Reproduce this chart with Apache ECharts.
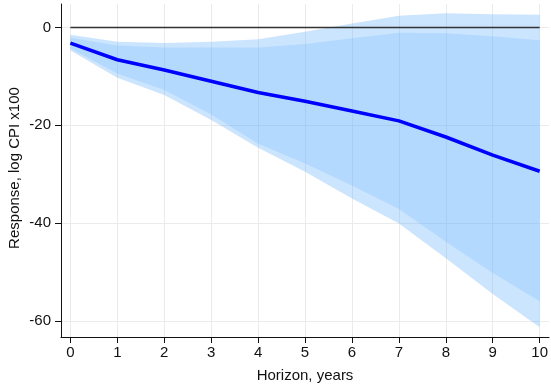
<!DOCTYPE html>
<html>
<head>
<meta charset="utf-8">
<script src="https://cdn.jsdelivr.net/npm/echarts@6/dist/echarts.min.js"></script>
<style>
  html, body { margin: 0; padding: 0; background: #fff; }
  #chart { width: 551px; height: 388px; }
</style>
</head>
<body>
<div id="chart"></div>
<script>
// horizon (years)
const horizon = [0, 1, 2, 3, 4, 5, 6, 7, 8, 9, 10];
// point estimate
const response = [-3.2, -6.6, -8.7, -11.0, -13.3, -15.1, -17.1, -19.1, -22.4, -26.1, -29.4];
// wide band
const outerLower = [-4.7, -10.3, -13.8, -18.9, -24.6, -29.5, -35.0, -40.1, -47.2, -54.5, -61.3];
const outerUpper = [-1.5, -2.9, -3.2, -2.9, -2.4, -0.9, 0.8, 2.4, 2.9, 2.7, 2.6];
// narrow band
const innerLower = [-4.3, -9.4, -12.8, -17.8, -23.8, -27.8, -32.3, -37.1, -43.8, -50.2, -56.0];
const innerUpper = [-2.1, -3.7, -4.1, -4.1, -4.1, -3.4, -2.2, -1.1, -1.2, -1.8, -2.6];
// reference line
const zeroRef = [0, 0, 0, 0, 0, 0, 0, 0, 0, 0, 0];
// tick labels
const xTicks = [0, 1, 2, 3, 4, 5, 6, 7, 8, 9, 10];
const yTicks = [-60, -40, -20, 0];

const pairs = (vals) => horizon.map((h, i) => [h, vals[i]]);
const rows = (lo, hi) => horizon.map((h, i) => [h, lo[i], hi[i]]);

const font = "Arial, 'Liberation Sans', sans-serif";
const myChart = echarts.init(document.getElementById("chart"));

// shaded band: one polygon through upper points, back along lower points
const band = (lo, hi, color) => ({
  type: "custom",
  data: rows(lo, hi),
  encode: { x: 0, y: [1, 2] },
  silent: true,
  renderItem: (params, api) => {
    if (params.dataIndexInside !== 0) return null;
    const n = params.dataInsideLength;
    const top = [];
    const bottom = [];
    for (let j = 0; j < n; j++) {
      top.push(api.coord([api.value(0, j), api.value(2, j)]));
      bottom.push(api.coord([api.value(0, j), api.value(1, j)]));
    }
    return {
      type: "polygon",
      shape: { points: top.concat(bottom.reverse()) },
      style: { fill: color },
    };
  },
});

const option = {
  animation: false,
  grid: { left: 61, top: 4, width: 491, height: 340 },
  xAxis: {
    type: "value",
    min: -0.2,
    max: 10.2,
    name: "Horizon, years",
    nameLocation: "middle",
    nameGap: 31,
    nameTextStyle: { color: "#111", fontSize: 15, fontFamily: font },
    axisLine: { onZero: false, lineStyle: { color: "#111", width: 1 } },
    axisTick: { show: true, length: 6, customValues: xTicks, lineStyle: { color: "#111" } },
    axisLabel: { customValues: xTicks, margin: 8, color: "#111", fontSize: 15, fontFamily: font },
    splitLine: { show: true, lineStyle: { color: "#ebebeb", width: 1 } },
  },
  yAxis: {
    type: "value",
    min: -63.3,
    max: 4.8,
    axisLine: { show: true, onZero: false, lineStyle: { color: "#111", width: 1 } },
    axisTick: { show: true, length: 6, customValues: yTicks, lineStyle: { color: "#111" } },
    axisLabel: { customValues: yTicks, margin: 10, color: "#111", fontSize: 15, fontFamily: font },
    splitLine: { show: true, lineStyle: { color: "#ebebeb", width: 1 } },
  },
  graphic: [
    {
      type: "text",
      x: 15,
      y: 168,
      rotation: Math.PI / 2,
      style: {
        text: "Response, log CPI x100",
        fill: "#111",
        fontSize: 15,
        fontFamily: font,
        align: "center",
        verticalAlign: "middle",
      },
    },
  ],
  series: [
    band(outerLower, outerUpper, "rgba(102,178,255,0.333)"),
    band(innerLower, innerUpper, "rgba(102,178,255,0.24)"),
    {
      type: "line",
      data: pairs(zeroRef),
      symbol: "none",
      lineStyle: { color: "#333", width: 1.5 },
      silent: true,
    },
    {
      type: "line",
      data: pairs(response),
      symbol: "none",
      lineStyle: { color: "#0000ff", width: 3.5 },
      silent: true,
    },
  ],
};
myChart.setOption(option);
</script>
</body>
</html>
